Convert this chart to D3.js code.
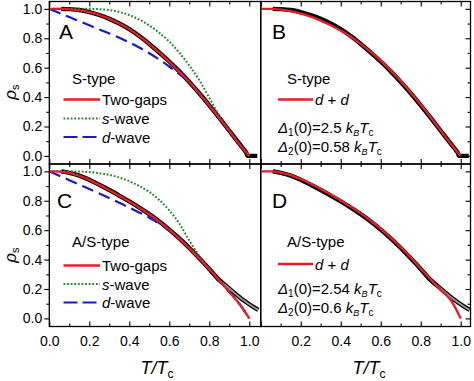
<!DOCTYPE html>
<html><head><meta charset="utf-8">
<script src="https://cdn.jsdelivr.net/npm/d3@7/dist/d3.min.js"></script>
<style>
body{margin:0;background:#fff;}
svg{display:block;font-family:"Liberation Sans",Arial,sans-serif;}
</style>
</head><body>
<svg id="chart" width="474" height="381"></svg>
<script>
// ---- data ----
const tGrid   = [0,0.05,0.1,0.15,0.2,0.25,0.3,0.35,0.4,0.45,0.5,0.55,0.6,0.65,0.7,0.75,0.8,0.85,0.9,0.95,1.0];
// Panel A (S-type)
const twoGapA = [1.0,1.0,0.997,0.99,0.977,0.958,0.932,0.9,0.862,0.815,0.76,0.702,0.64,0.573,0.502,0.425,0.343,0.258,0.17,0.08,0.0];
const sWaveA  = [1.0,1.0,1.0,1.0,1.0,0.998,0.992,0.979,0.958,0.927,0.887,0.837,0.777,0.702,0.615,0.515,0.395,0.275,0.175,0.083,0.0];
const dWaveA  = [1.0,0.972,0.944,0.916,0.888,0.86,0.833,0.804,0.772,0.737,0.698,0.655,0.608,0.556,0.5,0.428,0.345,0.26,0.172,0.082,0.0];
// Panel B (S-type, d + d)
const ddB     = [1.0,1.0,0.995,0.985,0.968,0.947,0.92,0.888,0.852,0.81,0.762,0.708,0.648,0.582,0.51,0.432,0.35,0.263,0.173,0.083,0.0];
// Panel C (A/S-type)
const twoGapC = [1.0,0.998,0.99,0.97,0.942,0.908,0.872,0.834,0.795,0.753,0.708,0.658,0.603,0.543,0.478,0.408,0.335,0.258,0.18,0.1,0.0];
const sWaveC  = [1.0,1.0,1.0,0.999,0.995,0.988,0.976,0.958,0.933,0.9,0.86,0.805,0.735,0.645,0.53,0.425,0.34,0.26,0.18,0.1,0.0];
const dWaveC  = [1.0,0.97,0.94,0.91,0.88,0.85,0.818,0.786,0.754,0.72,0.685,0.645,0.598,0.542,0.478,0.408,0.335,0.258,0.18,0.1,0.0];
// Panel D (A/S-type, d + d)
const ddD     = [1.0,1.0,0.992,0.974,0.948,0.916,0.88,0.842,0.802,0.76,0.714,0.664,0.609,0.549,0.484,0.414,0.34,0.265,0.195,0.125,0.0];
// experimental data
const dataS_T    = [0.06,0.1,0.15,0.2,0.25,0.3,0.35,0.4,0.45,0.5,0.55,0.6,0.65,0.7,0.75,0.8,0.85,0.9,0.95,0.975,0.988,0.99,1.04];
const dataS_rho  = [1.0,0.998,0.992,0.978,0.958,0.932,0.9,0.862,0.815,0.761,0.703,0.642,0.575,0.503,0.426,0.344,0.259,0.171,0.083,0.04,0.012,0.0,0.0];
const dataAS_T   = [0.06,0.1,0.15,0.2,0.25,0.3,0.35,0.4,0.45,0.5,0.55,0.6,0.65,0.7,0.75,0.8,0.85,0.88,0.9,0.925,0.95,0.975,1.0,1.02,1.045];
const dataAS_rho = [1.0,0.99,0.971,0.943,0.909,0.873,0.835,0.796,0.754,0.709,0.659,0.604,0.544,0.479,0.409,0.336,0.26,0.226,0.203,0.174,0.146,0.12,0.096,0.078,0.058];
// ticks
const xMajor = [0,0.2,0.4,0.6,0.8,1.0];
const xMinor = [0.1,0.3,0.5,0.7,0.9];
const xLabelsRight = [0.2,0.4,0.6,0.8,1.0];
const yMajor = [0,0.2,0.4,0.6,0.8,1.0];
const yMinor = [0.1,0.3,0.5,0.7,0.9];

const RED = "#ec1c24", GREEN = "#1e8a2a", BLUE = "#1a1acc";
const svg = d3.select("#chart");

const panels = [
  {id:"A", x0:49.3, x1:260.7, y0:1.5, y1:164,   xmax:1.057, left:true,  right:false, xLabels:null, type:"S"},
  {id:"B", x0:260.7,x1:470.5, y0:1.5, y1:164,   xmax:1.049, left:false, right:true,  xLabels:null, type:"S"},
  {id:"C", x0:49.3, x1:260.7, y0:164, y1:326.5, xmax:1.057, left:true,  right:false, xLabels:xMajor, type:"AS"},
  {id:"D", x0:260.7,x1:470.5, y0:164, y1:326.5, xmax:1.049, left:false, right:true,  xLabels:xLabelsRight, type:"AS"}
];

function pts(xs, ys){ return xs.map((t,i)=>[t, ys[i]]); }

panels.forEach(p=>{
  const x = d3.scaleLinear().domain([0,p.xmax]).range([p.x0,p.x1]);
  const y = d3.scaleLinear().domain([-0.055,1.05]).range([p.y1,p.y0]);
  const g = svg.append("g");
  const clipId = "clip"+p.id;
  svg.append("clipPath").attr("id",clipId).append("rect")
    .attr("x",p.x0).attr("y",p.y0).attr("width",p.x1-p.x0).attr("height",p.y1-p.y0);
  const plot = g.append("g").attr("clip-path",`url(#${clipId})`);
  const line = d3.line().x(d=>x(d[0])).y(d=>y(d[1])).curve(d3.curveMonotoneX);

  // experimental data
  const dT = p.type==="S" ? dataS_T : dataAS_T;
  const dR = p.type==="S" ? dataS_rho : dataAS_rho;
  const dpts = pts(dT,dR);
  plot.append("path").attr("d",line(dpts)).attr("fill","none")
    .attr("stroke","#000").attr("stroke-width",4.4).attr("stroke-linejoin","round");
  if(p.type==="AS"){
    plot.append("path").attr("d",line(dpts.filter(d=>d[0]>=0.85))).attr("fill","none")
      .attr("stroke","#9a9a9a").attr("stroke-width",1.8);
  }
  // models
  if(p.left){
    const sW = p.id==="A"? sWaveA : sWaveC;
    const dW = p.id==="A"? dWaveA : dWaveC;
    const tg = p.id==="A"? twoGapA : twoGapC;
    plot.append("path").attr("d",line(pts(tGrid,sW))).attr("fill","none")
      .attr("stroke",GREEN).attr("stroke-width",2).attr("stroke-dasharray","1.8,1.8");
    plot.append("path").attr("d",line(pts(tGrid,dW))).attr("fill","none")
      .attr("stroke",BLUE).attr("stroke-width",2.2).attr("stroke-dasharray","12,6");
    plot.append("path").attr("d",line(pts(tGrid,tg))).attr("fill","none")
      .attr("stroke",RED).attr("stroke-width",2.3);
  } else {
    const dd = p.id==="B"? ddB : ddD;
    plot.append("path").attr("d",line(pts(tGrid,dd))).attr("fill","none")
      .attr("stroke",RED).attr("stroke-width",2.3);
  }

  // axes
  const fmt = d3.format(".1f");
  const clean = a => { a.select(".domain").remove(); a.selectAll("line").attr("stroke","#000").attr("stroke-width",1.1); };
  g.append("g").attr("transform",`translate(0,${p.y0})`)
    .call(d3.axisTop(x).tickValues(xMajor).tickSize(-5).tickFormat("")).call(clean);
  g.append("g").attr("transform",`translate(0,${p.y0})`)
    .call(d3.axisTop(x).tickValues(xMinor).tickSize(-3).tickFormat("")).call(clean);
  g.append("g").attr("transform",`translate(0,${p.y1})`)
    .call(d3.axisBottom(x).tickValues(xMajor).tickSize(-5).tickFormat("")).call(clean);
  g.append("g").attr("transform",`translate(0,${p.y1})`)
    .call(d3.axisBottom(x).tickValues(xMinor).tickSize(-3).tickFormat("")).call(clean);
  if(p.xLabels){
    const lx = g.append("g").attr("transform",`translate(0,${p.y1})`)
      .call(d3.axisBottom(x).tickValues(p.xLabels).tickSize(0).tickPadding(9.5).tickFormat(fmt));
    lx.select(".domain").remove();
    lx.selectAll("text").attr("font-size",14).attr("fill","#000")
      .attr("font-family",'"Liberation Sans",Arial,sans-serif');
  }
  if(p.left){
    const ly = g.append("g").attr("transform",`translate(${p.x0},0)`)
      .call(d3.axisLeft(y).tickValues(yMajor).tickSize(5).tickPadding(2).tickFormat(fmt));
    ly.call(clean);
    ly.selectAll("text").attr("font-size",14).attr("fill","#000")
      .attr("font-family",'"Liberation Sans",Arial,sans-serif');
    g.append("g").attr("transform",`translate(${p.x0},0)`)
      .call(d3.axisLeft(y).tickValues(yMinor).tickSize(3).tickFormat("")).call(clean);
  }
  if(p.right){
    g.append("g").attr("transform",`translate(${p.x1},0)`)
      .call(d3.axisRight(y).tickValues(yMajor).tickSize(-5).tickFormat("")).call(clean);
    g.append("g").attr("transform",`translate(${p.x1},0)`)
      .call(d3.axisRight(y).tickValues(yMinor).tickSize(-3).tickFormat("")).call(clean);
  }
  g.append("rect").attr("x",p.x0).attr("y",p.y0).attr("width",p.x1-p.x0).attr("height",p.y1-p.y0)
    .attr("fill","none").attr("stroke","#000").attr("stroke-width",1.3);
});

// panel letters
const letters = [["A",59,39],["B",272,39],["C",57,208],["D",272,208]];
letters.forEach(l=>svg.append("text").attr("x",l[1]).attr("y",l[2]).attr("font-size",21).text(l[0]));

// legends left panels
function leftLegend(title, tx, ty, l1, l2, l3){
  svg.append("text").attr("x",tx).attr("y",ty).attr("font-size",15).text(title);
  const lx0=63.5, lx1=100, txx=102;
  svg.append("line").attr("x1",lx0).attr("x2",lx1).attr("y1",l1).attr("y2",l1).attr("stroke",RED).attr("stroke-width",2.3);
  svg.append("text").attr("x",txx).attr("y",l1+5.5).attr("font-size",15).text("Two-gaps");
  svg.append("line").attr("x1",lx0).attr("x2",lx1).attr("y1",l2).attr("y2",l2).attr("stroke",GREEN).attr("stroke-width",2).attr("stroke-dasharray","1.8,1.8");
  const s = svg.append("text").attr("x",txx).attr("y",l2+5.5).attr("font-size",15);
  s.append("tspan").attr("font-style","italic").text("s"); s.append("tspan").text("-wave");
  svg.append("line").attr("x1",lx0).attr("x2",lx1).attr("y1",l3).attr("y2",l3).attr("stroke",BLUE).attr("stroke-width",2.2).attr("stroke-dasharray","14,5");
  const d = svg.append("text").attr("x",txx).attr("y",l3+5.5).attr("font-size",15);
  d.append("tspan").attr("font-style","italic").text("d"); d.append("tspan").text("-wave");
}
leftLegend("S-type", 72, 83.5, 99.5, 118.5, 137);
leftLegend("A/S-type", 72, 247, 265.5, 284, 302.5);

function deltaText(x, y, idx, val){
  const t = svg.append("text").attr("x",x).attr("y",y).attr("font-size",15);
  t.append("tspan").attr("font-style","italic").text("Δ");
  t.append("tspan").attr("font-size",10).attr("dy",3).text(idx);
  t.append("tspan").attr("dy",-3).text("(0)=" + val + " ");
  t.append("tspan").attr("font-style","italic").text("k");
  t.append("tspan").attr("font-style","italic").attr("font-size",9).attr("dy",3).text("B");
  t.append("tspan").attr("font-style","italic").attr("dy",-3).text("T");
  t.append("tspan").attr("font-size",10).attr("dy",3).text("c");
}
function rightLegend(title, ty, ly, d1y, d2y, v1, v2){
  svg.append("text").attr("x",287).attr("y",ty).attr("font-size",15).text(title);
  svg.append("line").attr("x1",278).attr("x2",313).attr("y1",ly).attr("y2",ly).attr("stroke",RED).attr("stroke-width",2.3);
  const t = svg.append("text").attr("x",315).attr("y",ly+5.5).attr("font-size",15);
  t.append("tspan").attr("font-style","italic").text("d");
  t.append("tspan").text(" + ");
  t.append("tspan").attr("font-style","italic").text("d");
  deltaText(278, d1y, "1", v1);
  deltaText(278, d2y, "2", v2);
}
rightLegend("S-type", 83.5, 99.5, 133, 151.5, "2.5", "0.58");
rightLegend("A/S-type", 247, 264, 294, 312.5, "2.54", "0.6");

// y-axis titles
function rhoLabel(cx, cy){
  const t = svg.append("text").attr("transform",`translate(${cx},${cy}) rotate(-90)`)
    .attr("text-anchor","middle").attr("font-size",17);
  t.append("tspan").attr("font-style","italic").text("ρ");
  t.append("tspan").attr("font-size",11).attr("dy",3).text("s");
}
rhoLabel(16, 92);
rhoLabel(16, 255);

// x-axis titles
function tLabel(cx, cy){
  const t = svg.append("text").attr("x",cx).attr("y",cy).attr("text-anchor","middle").attr("font-size",18).attr("font-style","italic");
  t.append("tspan").text("T/T");
  t.append("tspan").attr("font-size",12).attr("font-style","normal").attr("dy",4).text("c");
}
tLabel(157, 374);
tLabel(369, 374);
</script>
</body></html>
